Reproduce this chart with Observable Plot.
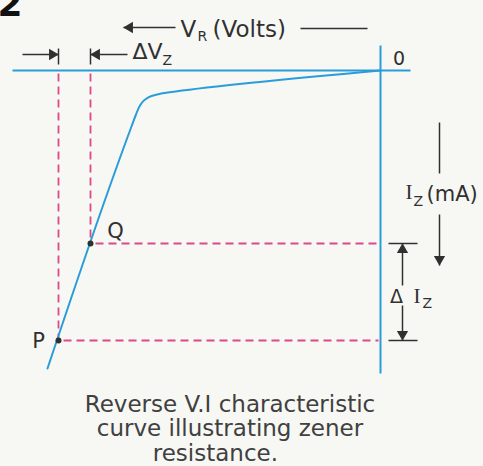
<!DOCTYPE html>
<html><head><meta charset="utf-8">
<script src="https://cdn.jsdelivr.net/npm/d3@7"></script>
<script src="https://cdn.jsdelivr.net/npm/@observablehq/plot@0.6"></script>
<style>html,body{margin:0;padding:0;background:#f7f7f4;overflow:hidden}</style>
</head><body><div id="chart"></div>
<script>
// Reverse V-I characteristic: V_R (volts, grows leftward), I_Z (mA, grows downward)
const curveV = [0, 20.5, 22.0, 22.9, 23.6, 24.1, 24.45, 24.9, 33.3];
const curveI = [0, 2.1, 2.32, 2.55, 2.95, 3.6, 4.4, 5.6, 29.8];

const pointNames = ["Q", "P"];
const pointV = [29.0, 32.2];
const pointI = [17.3, 27.0];
const pointLabelV = [26.5, 34.2];
const pointLabelI = [16.7, 27.7];

// axis extents
const hAxisV = [36.8, -3.0];
const vAxisI = [-2.5, 30.3];

// arrows: from (V, I) to tip (V, I)
const arrowFromV = [20.5, 35.8, 25.3, -2.2, -2.2, -5.9];
const arrowFromI = [-4.3, -1.6, -1.6, 21.5, 23.5, 14.4];
const arrowToV   = [25.7, 32.2, 29.0, -2.2, -2.2, -5.9];
const arrowToI   = [-4.3, -1.6, -1.6, 17.3, 27.0, 19.5];

// plain guide strokes
const plainFromV = [-5.9, 8.0];
const plainFromI = [5.2, -4.2];
const plainToV   = [-5.9, 1.3];
const plainToI   = [10.3, -4.2];

// text labels
const bigText = ["V", "(Volts)"];      const bigV = [20.0, 16.8];  const bigI = [-3.4, -3.4];
const subText = ["R", "Z", "Z", "Z"];   const subV = [18.3, 21.8, -4.2, -3.3]; const subI = [-3.0, -0.6, 23.7, 13.5];
const dvText = ["ΔV"];                  const dvV = [24.8];          const dvI = [-1.2];
const serifText = ["I", "I"];           const serifV = [-3.65, -2.85]; const serifI = [23.2, 12.8];
const maText = ["(mA)"];                const maV = [-4.6];           const maI = [13.0];
const diText = ["Δ", "0"];              const diV = [-1.6, -1.85];    const diI = [23.2, -0.6];
const captionText = ["Reverse V.I characteristic\ncurve illustrating zener\nresistance.    "];
const captionV = [15.05];
const captionI = [36.55];
const cornerText = ["2"]; const cornerV = [38.3]; const cornerI = [-5.5];

const BLUE = "#2a9dd8", PINK = "#dc4a8b", INK = "#303030";
const zip = (a, b) => a.map((v, k) => ({v, i: b[k]}));
const zipT = (t, a, b) => t.map((s, k) => ({t: s, v: a[k], i: b[k]}));

const curve = zip(curveV, curveI);
const points = pointNames.map((n, k) => ({n, v: pointV[k], i: pointI[k], lv: pointLabelV[k], li: pointLabelI[k]}));
const axes = [
  {v1: hAxisV[0], i1: 0, v2: hAxisV[1], i2: 0},
  {v1: 0, i1: vAxisI[0], v2: 0, i2: vAxisI[1]}
];
const dashes = points.flatMap(p => [
  {v1: p.v, i1: 0.3, v2: p.v, i2: p.i},
  {v1: p.v - 0.5, i1: p.i, v2: 0.2, i2: p.i}
]);
const ticks = [
  ...points.map(p => ({v1: p.v, i1: -2.2, v2: p.v, i2: -0.6})),
  ...points.map(p => ({v1: -0.8, i1: p.i, v2: -3.7, i2: p.i}))
];
const arrows = arrowFromV.map((_, k) => {
  const a = {v1: arrowFromV[k], i1: arrowFromI[k], v2: arrowToV[k], i2: arrowToI[k]};
  a.dir = a.i1 === a.i2 ? (a.v2 > a.v1 ? "left" : "right") : (a.i2 > a.i1 ? "down" : "up");
  return a;
});
const plains = plainFromV.map((_, k) => ({v1: plainFromV[k], i1: plainFromI[k], v2: plainToV[k], i2: plainToI[k]}));

const HO = 6.2;
const heads = [
  ["right", 90, -HO, 0], ["left", -90, HO, 0], ["down", 180, 0, -HO], ["up", 0, 0, HO]
].map(([d, rot, dx, dy]) => Plot.dot(arrows.filter(a => a.dir === d), {
  x: "v2", y: "i2", symbol: "triangle", r: 4.2, rotate: rot, dx, dy, fill: INK, stroke: "none"
}));

const SANS = "DejaVu Sans", SERIF = "Liberation Serif";
const txt = (data, fs, opts) => Plot.text(data, {x: "v", y: "i", text: "t", fontSize: fs, dy: -0.32 * fs,
  lineAnchor: "middle", fill: INK, fontFamily: SANS, ...opts});

const plot = Plot.plot({
  width: 483, height: 466, margin: 0,
  x: {domain: [38, -10.3], range: [0, 483], axis: null},
  y: {domain: [-7, 39.6], range: [0, 466], axis: null},
  style: {background: "#f7f7f4", overflow: "hidden"},
  marks: [
    Plot.link(dashes, {x1: "v1", y1: "i1", x2: "v2", y2: "i2", stroke: PINK, strokeWidth: 1.8, strokeDasharray: "8,5"}),
    Plot.link(axes, {x1: "v1", y1: "i1", x2: "v2", y2: "i2", stroke: BLUE, strokeWidth: 2}),
    Plot.line(curve, {x: "v", y: "i", curve: "monotone-y", stroke: BLUE, strokeWidth: 2}),
    Plot.link(ticks, {x1: "v1", y1: "i1", x2: "v2", y2: "i2", stroke: INK, strokeWidth: 1.5}),
    Plot.link(arrows, {x1: "v1", y1: "i1", x2: "v2", y2: "i2", stroke: INK, strokeWidth: 1.5}),
    Plot.link(plains, {x1: "v1", y1: "i1", x2: "v2", y2: "i2", stroke: INK, strokeWidth: 1.5}),
    ...heads,
    Plot.dot(points, {x: "v", y: "i", r: 3, fill: INK}),
    Plot.text(points, {x: "lv", y: "li", text: "n", fontSize: 21, dy: -0.32 * 21, fill: INK, fontFamily: SANS}),
    txt(zipT(bigText, bigV, bigI), 23, {textAnchor: "start"}),
    txt(zipT(subText, subV, subI), 14, {textAnchor: "start"}),
    txt(zipT(dvText, dvV, dvI), 22, {textAnchor: "start"}),
    txt(zipT(serifText, serifV, serifI), 21, {fontFamily: SERIF}),
    txt(zipT(maText, maV, maI), 21, {textAnchor: "start"}),
    txt(zipT(diText, diV, diI), 19, {}),
    txt(zipT(captionText, captionV, captionI), 23, {fill: "#404040", lineHeight: 1.065}),
    txt(zipT(cornerText, cornerV, cornerI), 36, {textAnchor: "start", fontWeight: "bold", fill: "#111"})
  ]
});
document.getElementById("chart").append(plot);
</script>
</body></html>
